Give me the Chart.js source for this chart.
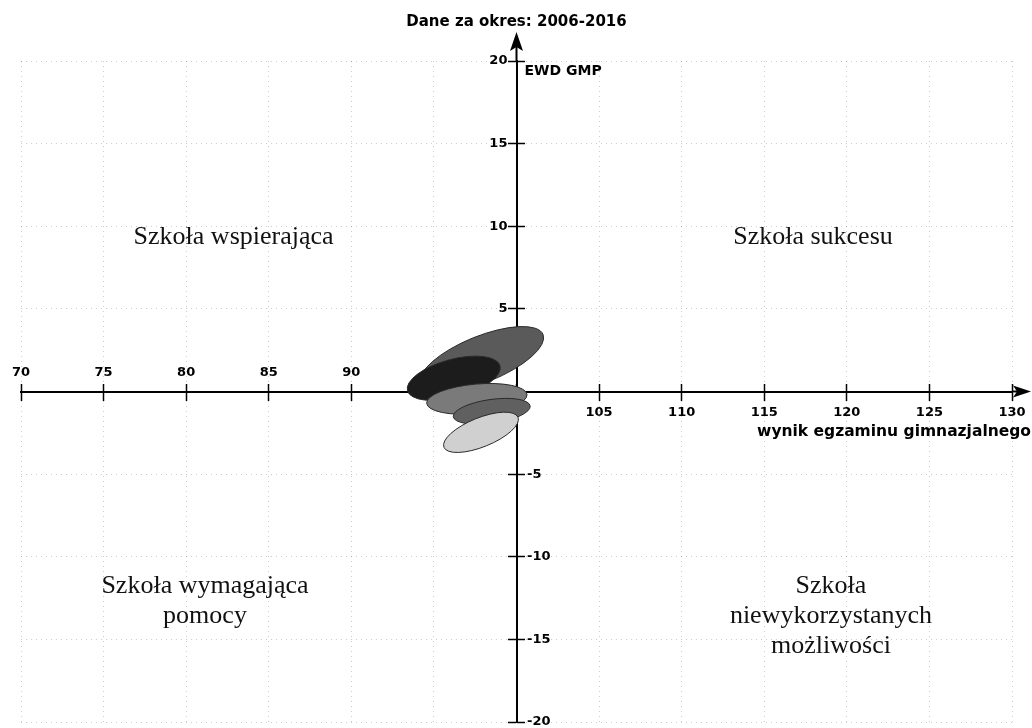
<!DOCTYPE html>
<html>
<head>
<meta charset="utf-8">
<script src="https://cdn.jsdelivr.net/npm/chart.js@4/dist/chart.umd.min.js"></script>
<style>
  html, body { margin: 0; padding: 0; background: #fff; }
</style>
</head>
<body>
<canvas id="ewd-chart" width="1032" height="728"></canvas>
<script>
let chartTitle = 'Dane za okres: 2006-2016'
let xTitle = 'wynik egzaminu gimnazjalnego'
let yTitle = 'EWD GMP'

let xMin = 70, xMax = 130
let yMin = -20, yMax = 20
let tickStep = 5

// EWD ellipses (egzamin, EWD), drawn back to front
let centerX = [97.9, 96.2, 97.6, 98.5, 97.85]
let centerY = [1.95, 0.8, -0.45, -1.2, -2.47]
let halfWidth = [4.0, 2.9, 3.05, 2.35, 2.42]
let halfHeight = [1.4, 1.15, 0.9, 0.72, 0.88]
let tiltDeg = [22, 15, 5, 8, 22]
let shades = ['#5a5a5a', '#1c1c1c', '#7a7a7a', '#606060', '#d0d0d0']

let quadrantNames = [
    ['Szkoła wspierająca'],
    ['Szkoła sukcesu'],
    ['Szkoła wymagająca', 'pomocy'],
    ['Szkoła', 'niewykorzystanych', 'możliwości']
]
let quadrantX = [82.87, 117.95, 81.14, 119.04]
let quadrantY = [8.94, 8.94, -12.22, -12.22]

let boldFont = { family: 'DejaVu Sans', size: 13, weight: 'bold' }

let ellipsePlugin = {
    id: 'ellipses',
    afterDatasetsDraw(chart) {
        let { ctx, scales: { x, y } } = chart
        let unitX = x.getPixelForValue(1) - x.getPixelForValue(0)
        let unitY = y.getPixelForValue(0) - y.getPixelForValue(1)
        ctx.save()
        centerX.forEach(function(cx, i) {
            ctx.beginPath()
            ctx.ellipse(x.getPixelForValue(cx), y.getPixelForValue(centerY[i]),
                halfWidth[i] * unitX, halfHeight[i] * unitY, -tiltDeg[i] * Math.PI / 180, 0, 2 * Math.PI)
            ctx.fillStyle = shades[i]
            ctx.fill()
            ctx.lineWidth = 1
            ctx.strokeStyle = '#2a2a2a'
            ctx.stroke()
        })
        ctx.restore()
    }
}

let decorPlugin = {
    id: 'decor',
    afterDraw(chart) {
        let { ctx, chartArea, scales: { x, y } } = chart
        let ox = x.getPixelForValue(100)
        let oy = y.getPixelForValue(0)
        ctx.save()
        ctx.strokeStyle = '#000'
        ctx.fillStyle = '#000'
        ctx.lineWidth = 2
        // axis extensions + arrows
        ctx.beginPath()
        ctx.moveTo(ox, chartArea.top)
        ctx.lineTo(ox, 45)
        ctx.moveTo(chartArea.right, oy)
        ctx.lineTo(1020, oy)
        ctx.stroke()
        ctx.beginPath()
        ctx.moveTo(ox, 32)
        ctx.lineTo(ox - 6.5, 51)
        ctx.lineTo(ox, 47)
        ctx.lineTo(ox + 6.5, 51)
        ctx.closePath()
        ctx.fill()
        ctx.beginPath()
        ctx.moveTo(1031, oy)
        ctx.lineTo(1013, oy - 6)
        ctx.lineTo(1017, oy)
        ctx.lineTo(1013, oy + 6)
        ctx.closePath()
        ctx.fill()

        // axis titles
        ctx.textBaseline = 'middle'
        ctx.textAlign = 'left'
        ctx.font = 'bold 14px "DejaVu Sans"'
        ctx.fillText(yTitle, ox + 8, 71)
        ctx.textAlign = 'right'
        ctx.font = 'bold 15.5px "DejaVu Sans"'
        ctx.fillText(xTitle, 1031, 432)

        // quadrant names
        ctx.font = '26px "Liberation Serif"'
        ctx.textAlign = 'center'
        ctx.textBaseline = 'alphabetic'
        ctx.fillStyle = '#111'
        quadrantNames.forEach(function(lines, i) {
            let px = x.getPixelForValue(quadrantX[i])
            let py = y.getPixelForValue(quadrantY[i])
            lines.forEach(function(line, j) {
                ctx.fillText(line, px, py + j * 30)
            })
        })
        ctx.restore()
    }
}

let gridColor = function(c) {
    return (c.tick && (c.tick.value === 100 || c.tick.value === 0)) ? 'rgba(0,0,0,0)' : 'rgba(0,0,0,0.2)'
}

let chartCanvas = document.querySelector('#ewd-chart')
let ctx = chartCanvas.getContext('2d')

let ewdChart = new Chart(ctx, {
    type: 'scatter',
    data: {
        datasets: [{
            data: centerX.map((v, i) => ({ x: v, y: centerY[i] })),
            pointRadius: 0,
            pointHoverRadius: 0
        }]
    },
    options: {
        responsive: false,
        animation: false,
        events: [],
        layout: { padding: { left: 21, right: 20, top: 0, bottom: 6 } },
        plugins: {
            legend: { display: false },
            tooltip: { enabled: false },
            title: {
                display: true,
                text: chartTitle,
                color: '#000',
                font: { family: 'DejaVu Sans', size: 15, weight: 'bold' },
                padding: { top: 13, bottom: 30 }
            }
        },
        scales: {
            x: {
                type: 'linear', axis: 'x',
                min: xMin, max: xMax,
                position: { y: 0 },
                grid: { color: gridColor, tickColor: '#000', tickLength: 8, tickWidth: 1.5 },
                border: { color: '#000', width: 2, dash: [1, 4] },
                ticks: {
                    stepSize: tickStep, autoSkip: false, maxRotation: 0, padding: 5,
                    color: '#000', font: boldFont,
                    callback: v => v > 100 ? v : ''
                }
            },
            x2: {
                type: 'linear', axis: 'x',
                min: xMin, max: xMax,
                position: { y: 0 },
                grid: { drawOnChartArea: false, tickColor: '#000', tickLength: -8, tickWidth: 1.5 },
                border: { display: false },
                ticks: {
                    stepSize: tickStep, autoSkip: false, maxRotation: 0, padding: -19,
                    color: '#000', font: boldFont,
                    callback: v => v < 95 ? v : ''
                }
            },
            y: {
                type: 'linear', axis: 'y',
                min: yMin, max: yMax,
                position: { x: 100 },
                z: 1,
                grid: { drawOnChartArea: false, tickColor: '#000', tickLength: 8, tickWidth: 1.5 },
                border: { color: '#000', width: 2 },
                ticks: {
                    stepSize: tickStep, autoSkip: false, padding: -3,
                    color: '#000', font: boldFont,
                    callback: v => v > 0 ? v + '  ' : ''
                }
            },
            y2: {
                type: 'linear', axis: 'y',
                min: yMin, max: yMax,
                position: { x: 100 },
                z: 1,
                grid: { drawOnChartArea: false, tickColor: '#000', tickLength: -8, tickWidth: 1.5 },
                border: { display: false },
                ticks: { stepSize: tickStep, autoSkip: false, padding: -3, display: false }
            },
            y3: {
                type: 'linear', axis: 'y',
                min: yMin, max: yMax,
                position: { x: 102.06 },
                grid: { color: gridColor, drawTicks: false },
                border: { display: false, dash: [1, 4] },
                ticks: {
                    stepSize: tickStep, autoSkip: false, padding: -3,
                    color: '#000', font: boldFont,
                    callback: v => v < 0 ? (v > -10 ? v + '  ' : String(v)) : ''
                }
            }
        }
    },
    plugins: [ellipsePlugin, decorPlugin]
})
</script>
</body>
</html>
